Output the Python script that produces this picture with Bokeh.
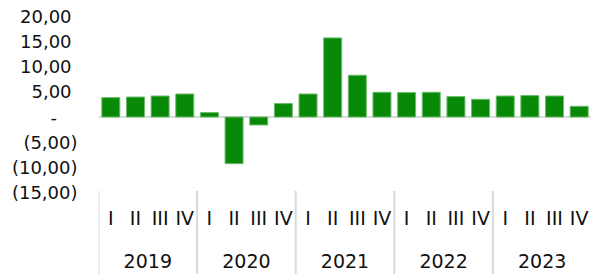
from bokeh.plotting import figure
from bokeh.models import FactorRange, Range1d, FixedTicker, Span, ColumnDataSource
from bokeh.transform import dodge
from bokeh.core.properties import value
from bokeh.embed import file_html
from bokeh.resources import INLINE

years = ["2019", "2020", "2021", "2022", "2023"]
quarters = ["I", "II", "III", "IV"]
values = [3.86, 3.98, 4.18, 4.58,
          0.88, -9.28, -1.59, 2.67,
          4.58, 15.74, 8.31, 4.92,
          4.86, 4.92, 4.06, 3.53,
          4.18, 4.26, 4.18, 2.13]
yticks = [-15, -10, -5, 0, 5, 10, 15, 20]
ytick_labels = ["(15,00)", "(10,00)", "(5,00)", "-\u2007\u2002",
                "5,00\u2004", "10,00\u2004", "15,00\u2004", "20,00\u2004"]

FONT = "DejaVu Sans"
PX = 5.02                     # pixels per unit on the value axis
Y_MIN, Y_MAX = -15, 20
AXIS_PX = 82                  # room below the value range for the category axis
y_bottom = Y_MIN - AXIS_PX / PX
q_y = Y_MIN - 26 / PX
yr_y = Y_MIN - 69 / PX

factors = [(y, q) for y in years for q in quarters]
src = ColumnDataSource(dict(x=factors, v=values, q=[q for _, q in factors]))
ysrc = ColumnDataSource(dict(x=years, first=[(y, quarters[0]) for y in years]))

p = figure(x_range=FactorRange(*factors, range_padding=0, group_padding=0, subgroup_padding=0),
           y_range=Range1d(y_bottom, Y_MAX),
           frame_width=493, frame_height=round((Y_MAX - y_bottom) * PX),
           output_backend="svg", toolbar_location=None,
           min_border_left=98, min_border_right=0, min_border_top=16, min_border_bottom=0)
p.outline_line_color = None
p.xgrid.grid_line_color = None
p.ygrid.grid_line_color = None
p.xaxis.visible = False

zero = Span(location=0, dimension="width", line_color="#d9d9d9", line_width=2, level="underlay")
p.add_layout(zero)

p.vbar(x="x", top="v", width=0.73, source=src, fill_color="#088a08", line_color="#6dbb6d", line_width=1)

# category axis drawn below the value range
p.segment(x0=dodge("first", -0.5, range=p.x_range), x1=dodge("first", -0.5, range=p.x_range),
          y0=Y_MIN + 0.3, y1=y_bottom, source=ysrc, line_color="#d9d9d9", line_width=2)
p.text(x="x", y=q_y, text="q", source=src, text_font=value(FONT), text_font_size="19px",
       text_align="center", text_baseline="middle", text_color="#111111")
p.text(x="x", y=yr_y, text="x", source=ysrc, text_font=value(FONT), text_font_size="19px",
       text_align="center", text_baseline="middle", text_color="#111111")

ya = p.yaxis[0]
ya.ticker = FixedTicker(ticks=yticks)
ya.major_label_overrides = {t: l for t, l in zip(yticks, ytick_labels)}
ya.axis_line_color = None
ya.major_tick_line_color = None
ya.major_tick_out = 0
ya.major_tick_in = 0
ya.minor_tick_line_color = None
ya.major_label_text_font = FONT
ya.major_label_text_font_size = "18px"
ya.major_label_text_color = "#111111"
ya.major_label_standoff = 21

open("out.html", "w").write(file_html(p, INLINE))
